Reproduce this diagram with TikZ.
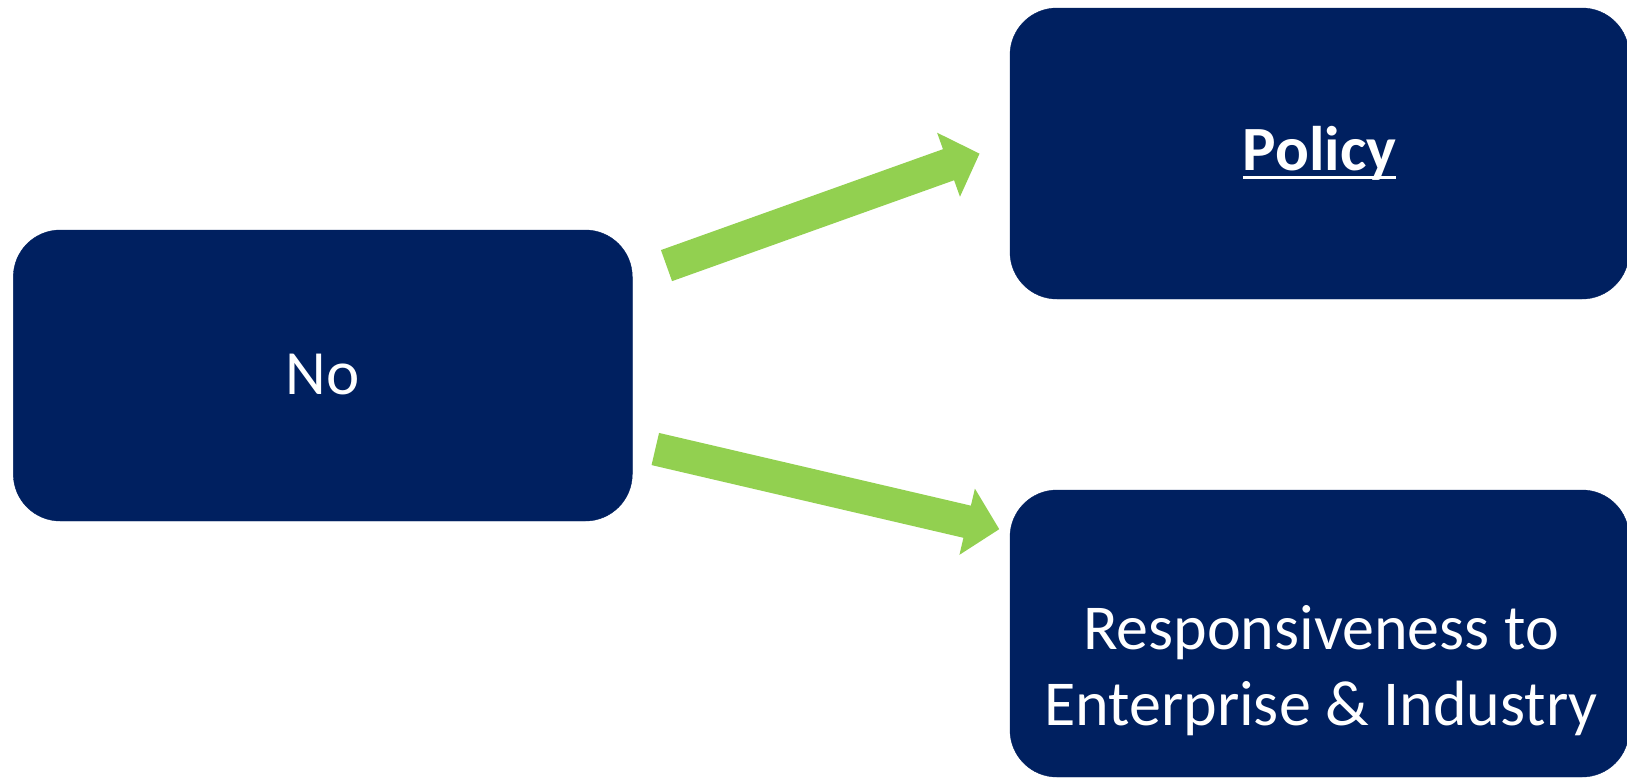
\documentclass[tikz,border=0pt]{standalone}
\usepackage{fontspec}
\setmainfont{Carlito}
\usetikzlibrary{arrows.meta}
\definecolor{navy}{HTML}{002060}
\definecolor{leaf}{HTML}{92D050}
\newcommand\thickul[1]{\setbox0\hbox{#1}\rlap{\rule[-8pt]{\wd0}{3pt}}\box0}
\tikzset{
  box/.style={rectangle, rounded corners=47pt, fill=navy, draw=navy,
    minimum width=619pt, inner sep=0pt, text=white,
    font=\fontsize{63}{76}\selectfont, align=center},
  flow/.style={draw=leaf, line width=33pt,
    -{Triangle[length=33pt, width=66pt]}, shorten <=0pt}
}
\begin{document}
\begin{tikzpicture}[x=1pt,y=-1pt]
  \useasboundingbox (0,0) rectangle (1627,777);
  \clip (0,0) rectangle (1627,777);
  % source box
  \node[box, minimum height=291pt] (no) at (322.8,375.5) {\raisebox{3pt}{No}};
  % target boxes
  \node[box, minimum height=291pt] (policy) at (1319.5,153.5)
    {\bfseries\thickul{Policy}};
  \node[box, minimum height=287pt] (resp) at (1319.5,633.5) {};
  \node[text=white, font=\fontsize{64}{76}\selectfont, align=center,
    inner sep=0pt] (resptext) at (1321,671)
    {Responsiveness to\\Enterprise \& Industry};
  % arrows
  \coordinate (a1) at (666.5,265.6);
  \coordinate (b1) at (979.6,153.6);
  \coordinate (a2) at (655.3,449);
  \coordinate (b2) at (999.3,529.2);
  \draw[flow] (a1) -- (b1);
  \draw[flow] (a2) -- (b2);
\end{tikzpicture}
\end{document}
